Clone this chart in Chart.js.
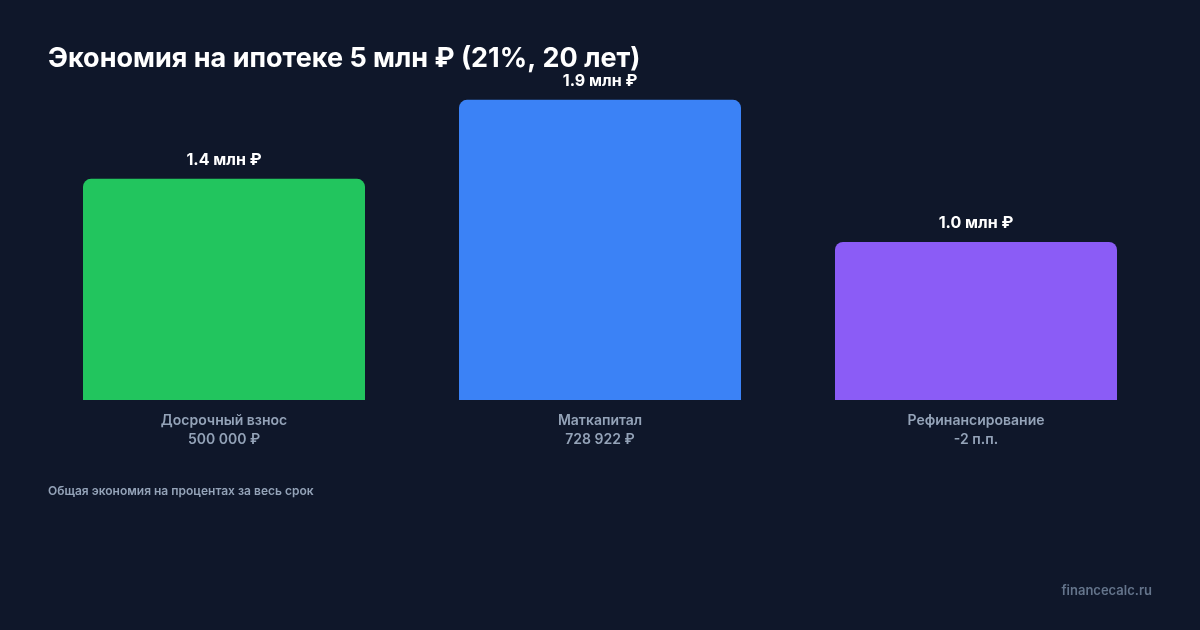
<!DOCTYPE html>
<html lang="ru">
<head>
<meta charset="UTF-8">
<title>Экономия на ипотеке</title>
<script src="https://cdn.jsdelivr.net/npm/chart.js"></script>
<style>
  html, body { margin: 0; padding: 0; background: #0f172a; }
  #wrap { width: 1200px; height: 630px; }
</style>
</head>
<body>
<div id="wrap"><canvas id="c" width="1200" height="630"></canvas></div>
<script>
const categories = ['Досрочный взнос', 'Маткапитал', 'Рефинансирование'];
const subLabels = ['500 000 ₽', '728 922 ₽', '-2 п.п.'];
const savings = [1.4, 1.9, 1.0]; // млн ₽
const colors = ['#22c55e', '#3b82f6', '#8b5cf6'];

const FONT = 'Inter, "Noto Sans", sans-serif';

const decor = {
  id: 'decor',
  afterDatasetsDraw(chart) {
    const ctx = chart.ctx;
    const meta = chart.getDatasetMeta(0);
    const x = chart.scales.x;
    ctx.save();
    ctx.textAlign = 'center';
    ctx.textBaseline = 'alphabetic';
    meta.data.forEach((bar, i) => {
      ctx.fillStyle = '#ffffff';
      ctx.font = 'bold 16px ' + FONT;
      ctx.fillText(savings[i].toFixed(1) + ' млн ₽', bar.x, bar.y - 14);
      const cx = x.getPixelForValue(i);
      ctx.fillStyle = '#94a3b8';
      ctx.font = '600 14px ' + FONT;
      ctx.fillText(categories[i], cx, 425);
      ctx.fillText(subLabels[i], cx, 444);
    });
    ctx.textAlign = 'left';
    ctx.fillStyle = '#ffffff';
    ctx.font = 'bold 27px ' + FONT;
    ctx.fillText('Экономия на ипотеке 5 млн ₽ (21%, 20 лет)', 48, 67);
    ctx.fillStyle = '#94a3b8';
    ctx.font = '600 12px ' + FONT;
    ctx.fillText('Общая экономия на процентах за весь срок', 48, 495);
    ctx.textAlign = 'right';
    ctx.fillStyle = '#64748b';
    ctx.font = '600 13px ' + FONT;
    ctx.fillText('financecalc.ru', 1152, 595);
    ctx.restore();
  }
};

new Chart(document.getElementById('c'), {
  type: 'bar',
  data: {
    labels: categories,
    datasets: [{
      data: savings,
      backgroundColor: colors,
      borderRadius: { topLeft: 8, topRight: 8, bottomLeft: 0, bottomRight: 0 },
      borderSkipped: false,
      categoryPercentage: 0.75,
      barPercentage: 1
    }]
  },
  options: {
    responsive: false,
    animation: false,
    layout: { padding: { left: 36, right: 36, top: 84, bottom: 230 } },
    plugins: { legend: { display: false }, tooltip: { enabled: false } },
    scales: {
      x: { display: false },
      y: { display: false, min: 0, max: 2 }
    }
  },
  plugins: [decor]
});
</script>
</body>
</html>
